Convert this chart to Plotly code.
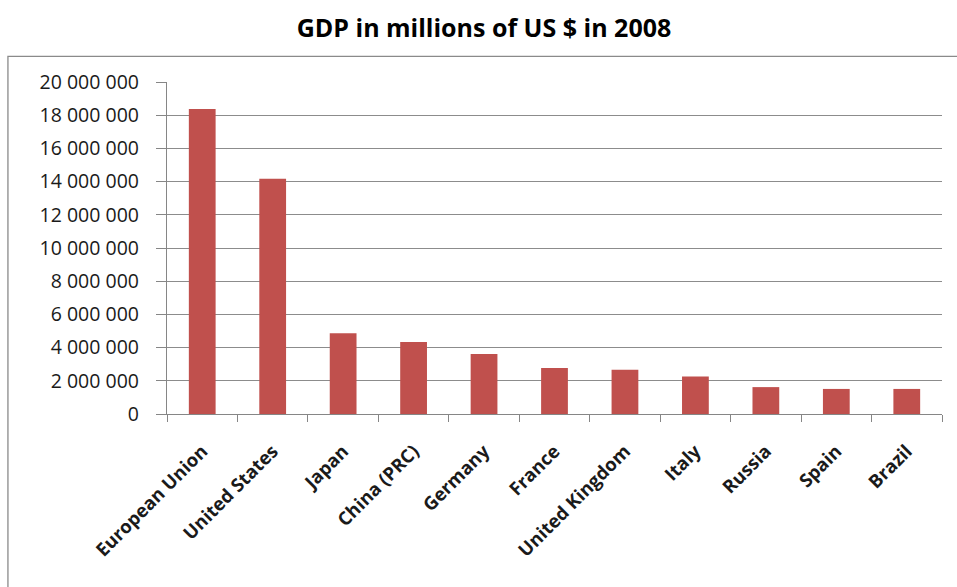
import plotly.graph_objects as go

countries = ["European Union", "United States", "Japan", "China (PRC)", "Germany",
             "France", "United Kingdom", "Italy", "Russia", "Spain", "Brazil"]
gdp = [18380000, 14170000, 4870000, 4340000, 3610000,
       2770000, 2660000, 2260000, 1620000, 1510000, 1510000]
y_ticks = [0, 2000000, 4000000, 6000000, 8000000, 10000000,
           12000000, 14000000, 16000000, 18000000, 20000000]

W, H = 957, 587
L, R, T, B = 167, 941.7, 81.7, 414.3
pw, ph = R - L, B - T

fig = go.Figure(go.Bar(x=[f"<b>{c}</b>" for c in countries], y=gdp,
                       marker=dict(color="#C0504D", line=dict(width=0))))

fig.update_layout(
    width=W, height=H,
    margin=dict(l=L, r=W - R, t=T, b=H - B, pad=0),
    paper_bgcolor="white", plot_bgcolor="white",
    separators=". ",
    bargap=0.62,
    showlegend=False,
    font=dict(family="Open Sans", color="#1a1a1a"),
    title=dict(text="<b>GDP in millions of US $ in 2008</b>", x=484 / W, y=1 - 28 / H,
               xanchor="center", yanchor="middle",
               font=dict(family="Open Sans", size=25, color="black")),
    xaxis=dict(showline=True, linecolor="#868686", linewidth=1.3,
               ticks="outside", ticklen=7, tickcolor="#868686", tickson="boundaries",
               tickangle=-45, tickfont=dict(size=18.5, color="#1a1a1a", family="Open Sans"),
               showgrid=False, ticklabelstandoff=18),
    yaxis=dict(range=[0, 20000000], tickvals=y_ticks, tickformat=",d",
               showline=True, linecolor="#868686", linewidth=1.3,
               ticks="outside", ticklen=10, tickcolor="#868686",
               gridcolor="#8c8c8c", gridwidth=1.3,
               tickfont=dict(size=19.5, color="#1a1a1a", family="Open Sans"),
               zeroline=False, ticklabelstandoff=13),
)

# outer chart border
fig.add_shape(type="rect", xref="paper", yref="paper",
              x0=(8 - L) / pw, x1=(975 - L) / pw,
              y0=(B - 620) / ph, y1=(B - 56) / ph,
              line=dict(color="#8a8a8a", width=1.3), fillcolor="rgba(0,0,0,0)", layer="below")

fig.write_html("out.html")
